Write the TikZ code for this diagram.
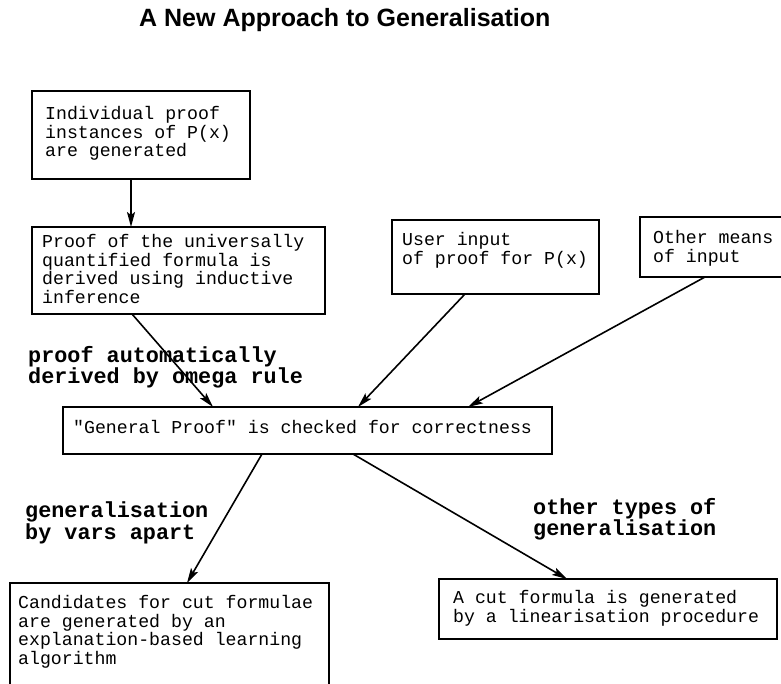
\documentclass[tikz,border=0pt]{standalone}
\usepackage{fontspec}
\setmainfont{Liberation Sans}
\setmonofont{Liberation Mono}
\usetikzlibrary{arrows.meta}
\tikzset{
  box/.style={draw, line width=1.8pt, inner sep=0pt, outer sep=0pt, anchor=north west},
  txt/.style={anchor=north west, inner sep=0pt, align=left, font=\ttfamily\fontsize{18.2}{18.8}\selectfont},
  lbl/.style={anchor=north west, inner sep=0pt, align=left, font=\ttfamily\bfseries\fontsize{21.8}{21.5}\selectfont},
  arr/.style={line width=1.6pt, -{Stealth[length=15pt, width=8pt, inset=3pt]}},
}
\begin{document}
\begin{tikzpicture}[x=1pt, y=-1pt]
\useasboundingbox (0,0) rectangle (781,684);
\node[anchor=base west, inner sep=0pt, font=\bfseries\fontsize{25}{30}\selectfont] (title) at (139,27) {A New Approach to Generalisation};

\node[box, minimum width=218pt, minimum height=88pt] (A) at (32,91) {};
\node[box, minimum width=293pt, minimum height=87pt] (B) at (32,227) {};
\node[box, minimum width=207pt, minimum height=74pt] (C) at (392,220) {};
\node[box, minimum width=150pt, minimum height=60pt] (D) at (640,217) {};
\node[box, minimum width=489pt, minimum height=47pt] (E) at (63,407) {};
\node[box, minimum width=319pt, minimum height=104pt] (F) at (10,583) {};
\node[box, minimum width=338pt, minimum height=60pt] (G) at (439,579) {};

\node[txt] (At) at (45,106) {Individual proof\\instances of P(x)\\are generated};
\node[txt] (Bt) at (42,234) {Proof of the universally\\quantified formula is\\derived using inductive\\inference};
\node[txt] (Ct) at (402,232) {User input\\of proof for P(x)};
\node[txt] (Dt) at (653,230) {Other means\\of input};
\node[txt] (Et) at (73,420) {"General Proof" is checked for correctness};
\node[txt] (Ft) at (18,595) {Candidates for cut formulae\\are generated by an\\explanation-based learning\\algorithm};
\node[txt] (Gt) at (453,590) {A cut formula is generated\\by a linearisation procedure};

\node[lbl] (L1) at (28,346) {proof automatically\\derived by omega rule};
\node[lbl] (L2) at (25,502) {generalisation\\by vars apart};
\node[lbl] (L3) at (533,498) {other types of\\generalisation};

\draw[arr] ([xshift=99pt]A.south west) -- ([xshift=99pt]B.north west);
\draw[arr] ([xshift=100pt]B.south west) -- ([xshift=150pt]E.north west);
\draw[arr] ([xshift=73pt]C.south west) -- ([xshift=295pt]E.north west);
\draw[arr] ([xshift=65pt]D.south west) -- ([xshift=405pt]E.north west);
\draw[arr] ([xshift=199pt]E.south west) -- ([xshift=177pt]F.north west);
\draw[arr] ([xshift=290pt]E.south west) -- ([xshift=128pt]G.north west);
\end{tikzpicture}
\end{document}
